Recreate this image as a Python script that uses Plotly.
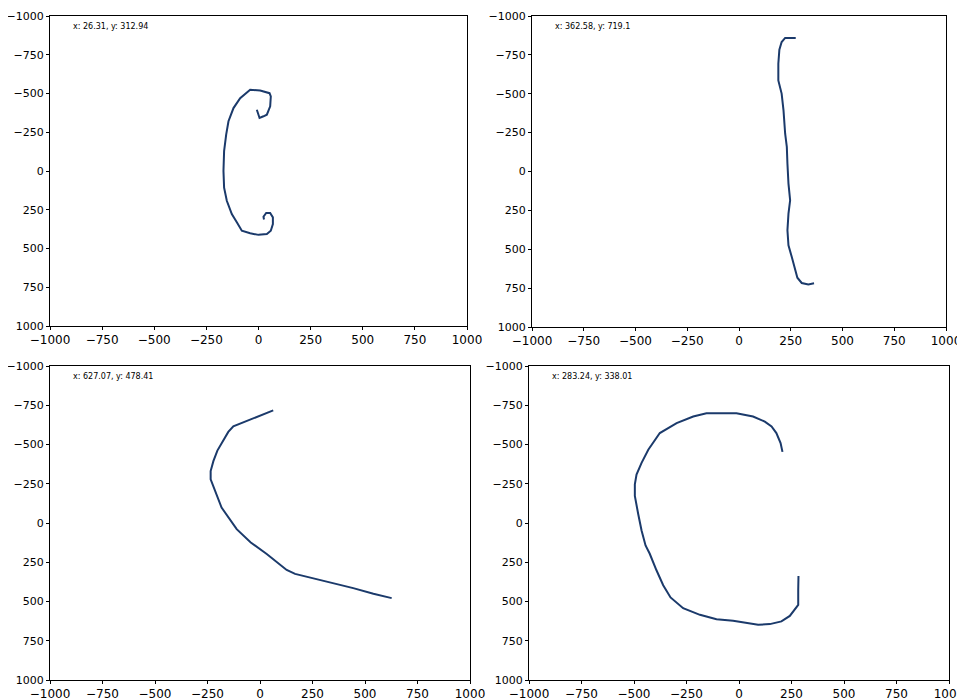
import plotly.graph_objects as go

# Panel 1 (top-left)
x1 = [-8, 5, 24, 40, 56, 59, 53, 8, -40, -88, -120, -144, -155, -165, -168, -165, -152, -128, -104, -80, -40, 0, 40, 59, 69, 69, 56, 37, 24, 26.31]
y1 = [-395, -342, -353, -363, -417, -481, -502, -519, -524, -470, -406, -321, -235, -128, 0, 107, 192, 278, 331, 385, 402, 412, 406, 385, 342, 299, 271, 271, 295, 312.94]

# Panel 2 (top-right)
x2 = [274, 223, 206, 195, 190, 190, 206, 215, 223, 231, 234, 239, 247, 239, 234, 239, 255, 271, 282, 303, 335, 362.58]
y2 = [-859, -859, -833, -783, -693, -586, -501, -393, -243, -158, -50, 78, 185, 271, 378, 475, 550, 625, 683, 717, 726, 719.1]

# Panel 3 (bottom-left)
x3 = [63, -32, -127, -151, -175, -203, -222, -235, -235, -214, -183, -111, -44, 32, 127, 167, 254, 349, 444, 540, 627.07]
y3 = [-717, -664, -616, -580, -521, -461, -394, -331, -278, -204, -98, 39, 124, 197, 299, 324, 352, 383, 415, 451, 478.41]

# Panel 4 (bottom-right)
x4 = [207, 198, 178, 155, 123, 67, -12, -91, -155, -218, -297, -377, -393, -432, -464, -488, -496, -496, -480, -464, -445, -425, -393, -361, -326, -266, -186, -107, -28, 36, 91, 147, 202, 242, 266, 282, 282, 283.24]
y4 = [-453, -509, -573, -615, -646, -678, -699, -699, -699, -678, -636, -573, -541, -467, -383, -309, -246, -173, -57, 48, 143, 196, 301, 396, 474, 543, 585, 613, 623, 634, 648, 644, 627, 592, 554, 522, 427, 338.01]

labels = ["x: 26.31, y: 312.94", "x: 362.58, y: 719.1", "x: 627.07, y: 478.41", "x: 283.24, y: 338.01"]
tick_vals = [-1000, -750, -500, -250, 0, 250, 500, 750, 1000]

OFF = 8  # default page body margin
W, H = 965 - OFF, 700 - OFF
boxes = [  # left, right, top, bottom in page pixels
    (50, 467, 16, 326),
    (532, 946, 16, 327),
    (50, 470, 366, 680),
    (529, 949, 366, 680),
]
series = [(x1, y1), (x2, y2), (x3, y3), (x4, y4)]

fig = go.Figure()
layout = dict(
    width=W, height=H, margin=dict(l=0, r=0, t=0, b=0, autoexpand=False),
    paper_bgcolor="white", plot_bgcolor="white", showlegend=False,
    font=dict(family="DejaVu Sans", size=12, color="black"),
)
annotations = []
for i, ((xs, ys), (l, r, t, b)) in enumerate(zip(series, boxes)):
    l, r, t, b = l - OFF, r - OFF, t - OFF, b - OFF
    n = "" if i == 0 else str(i + 1)
    fig.add_trace(go.Scatter(x=xs, y=ys, mode="lines",
                             line=dict(color="#1b3a6b", width=2),
                             xaxis="x" + n, yaxis="y" + n, hoverinfo="skip"))
    axcommon = dict(showgrid=False, zeroline=False, showline=True, mirror=True,
                    linecolor="black", linewidth=1, ticks="outside", ticklen=3,
                    tickcolor="black", tickvals=tick_vals, automargin=False,
                    ticktext=[("\u2212" + str(-v)) if v < 0 else str(v) for v in tick_vals])
    layout["xaxis" + n] = dict(axcommon, domain=[l / W, r / W], range=[-1000, 1000],
                               anchor="y" + n,
                               tickfont=dict(family="DejaVu Sans", size=12, color="black"))
    layout["yaxis" + n] = dict(axcommon, domain=[1 - b / H, 1 - t / H], range=[1000, -1000],
                               anchor="x" + n,
                               tickfont=dict(family="DejaVu Sans", size=11, color="black"))
    annotations.append(dict(text=labels[i], xref="x" + n + " domain", yref="y" + n + " domain",
                            x=0.05, y=0.965, xanchor="left", yanchor="middle", showarrow=False,
                            font=dict(family="DejaVu Sans", size=8, color="black")))
layout["annotations"] = annotations
fig.update_layout(**layout)
fig.write_html("out.html")
